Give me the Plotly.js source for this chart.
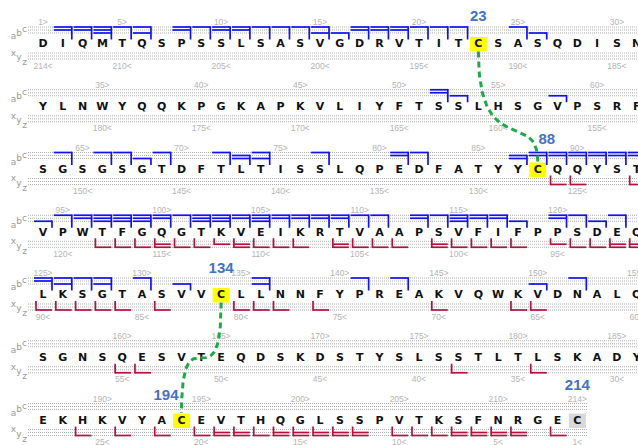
<!DOCTYPE html>
<html><head><meta charset="utf-8">
<script src="https://cdn.plot.ly/plotly-3.0.1.min.js"></script>
<style>html,body{margin:0;padding:0;background:#fff}#chart{width:638px;height:445px}</style>
</head><body><div id="chart"></div>
<script>
// ---------------- data ----------------
const sequence = "DIQMTQSPSSLSASVGDRVTITCSASQDISNYLNWYQQKPGKAPKVLIYFTSSLHSGVPSRFSGSGSGTDFTLTISSLQPEDFATYYCQQYSTVPWTFGQGTKVEIKRTVAAPSVFIFPPSDEQLKSGTASVVCLLNNFYPREAKVQWKVDNALQSGNSQESVTEQDSKDSTYSLSSTLTLSKADYEKHKVYACEVTHQGLSSPVTKSFNRGEC";
const residuesPerRow = 31;

// N-terminal fragments (a, b, c) : residue number and observed ion types
const nTermResidues = [2,3,4,5,6,8,9,10,11,12,13,14,15,16,17,18,19,20,21,22,25,26,
  52,53,58,
  64,66,67,68,69,72,73,74,77,81,82,87,88,89,90,91,92,93,
  94,95,96,97,98,99,100,101,102,103,104,105,106,107,108,109,110,111,113,114,115,116,117,118,120,121,122,123,
  125,126,127,128,130,132,136,141,143,150,152];
const nTermIons = ['cb','cb','cba','c','ca','cb','c','cb','cb','c','c','c','ca','a','cb','cb','cb','c','c','c','c','a',
  'cb','a','a',
  'c','c','c','a','c','c','ba','ca','c','cb','c','ba','cb','cb','cb','cb','cb','cb',
  'a','c','cb','cba','cba','cba','cb','c','cba','cba','cb','cba','cb','cb','cb','cb','c','c','cb','c','cba','cb','cb','a','cb','c','a','c',
  'cb','ca','c','ca','c','a','ca','c','c','a','c'];

// C-terminal fragments (x, y, z)
const cTermResidues = [89,90,93,
  97,98,99,100,101,102,103,104,105,106,107,109,110,111,112,114,115,116,117,118,120,121,122,123,124,
  125,126,127,128,129,131,135,136,137,139,145,149,150,
  160,161,177,181,
  189,191,193,195,196,197,198,199,200,201,202,203,205,206,207,208,209,210,211,213];
const cTermIons = ['z','z','z',
  'z','z','z','yz','z','z','y','yz','z','z','z','yz','z','z','z','yz','z','z','z','z','y','z','z','yz','yz',
  'z','z','z','z','z','z','z','z','z','z','z','z','z',
  'z','z','z','z',
  'z','z','z','z','yz','yz','z','yz','yz','yz','yz','yz','z','z','z','yz','yz','yz','yz','z'];

const disulfideBonds = [[23,88],[134,194]];
const bondedCys = [23,88,134,194];
const freeCys = [214];
const cysLabels = [23,88,134,194,214];

// ---------------- geometry / style ----------------
const W=638, H=445, X0=43, PITCH=19.79, Y0=44.5, ROWH=62.75;
const px = v => v/PITCH, py = v => v/ROWH;
const colOf = r => (r-1)%residuesPerRow, rowOf = r => Math.floor((r-1)/residuesPerRow);
const nLevel = {c:-17.5, b:-14.5, a:-11.5};
const cLevel = {x:8.5, y:11.5, z:14.5};
const BLUE='#1010f0', RED='#b3123d', GREEN='#1fa84a', GRAY='#b8b8b8';
const bondBend = [0.5, 0];
const labelOffset = {23:[0,-27], 88:[9,-30], 134:[0,-26.5], 194:[-15.5,-25], 214:[0,-35]};

const N = sequence.length;
const nRows = Math.ceil(N/residuesPerRow);
const traces = [];
const shapes = [];

// dotted guide lines
for (let r=0; r<nRows; r++){
  const lastCol = Math.min(residuesPerRow, N - r*residuesPerRow) - 1;
  const xEnd = (r === nRows-1) ? lastCol + px(10) : (W - X0)/PITCH + 1;
  const levels = Object.values(nLevel).concat(Object.values(cLevel));
  levels.forEach(L => shapes.push({type:'line', layer:'below', xref:'x', yref:'y',
    x0: px(28-X0), x1: xEnd, y0: r+py(L), y1: r+py(L),
    line:{color:'#b0b0b0', width:1, dash:'1px,1px'}}));
}

// Cys highlight boxes
bondedCys.concat(freeCys).forEach(res => {
  const c = colOf(res), r = rowOf(res);
  shapes.push({type:'rect', layer:'below', xref:'x', yref:'y',
    x0: c-px(8.5), x1: c+px(8.5), y0: r+py(-7.5), y1: r+py(7),
    fillcolor: freeCys.includes(res) ? '#d8d8d8' : '#ffff00', line:{width:0}});
});

// N-terminal brackets
{
  const xs=[], ys=[];
  nTermResidues.forEach((res,i) => {
    const c = colOf(res), r = rowOf(res), types = nTermIons[i].split('');
    let top = 0;
    types.forEach(t => {
      const L = nLevel[t]; top = Math.min(top, L);
      xs.push(c+px(-9), c+px(9), null); ys.push(r+py(L), r+py(L), null);
    });
    xs.push(c+px(9), c+px(9), null); ys.push(r+py(top-0.8), r+py(-5), null);
  });
  traces.push({x:xs, y:ys, mode:'lines', line:{color:BLUE, width:1.7}, hoverinfo:'skip'});
}
// C-terminal brackets
{
  const xs=[], ys=[];
  cTermResidues.forEach((res,i) => {
    const c = colOf(res), r = rowOf(res), types = cTermIons[i].split('');
    let bot = 0;
    types.forEach(t => {
      const L = cLevel[t]; bot = Math.max(bot, L);
      xs.push(c+px(-7), c+px(9), null); ys.push(r+py(L), r+py(L), null);
    });
    xs.push(c+px(-7), c+px(-7), null); ys.push(r+py(5.5), r+py(bot+0.8), null);
  });
  traces.push({x:xs, y:ys, mode:'lines', line:{color:RED, width:1.7}, hoverinfo:'skip'});
}

// residues
{
  const xs=[], ys=[], tx=[];
  sequence.split('').forEach((aa,i) => { xs.push(colOf(i+1)); ys.push(rowOf(i+1)); tx.push(aa); });
  traces.push({x:xs, y:ys, text:tx, mode:'text', textposition:'middle center',
    textfont:{family:'DejaVu Sans', size:11, weight:'bold', color:'#111'}, hoverinfo:'skip'});
}

// numbering
{
  const xs=[], ys=[], tx=[], xl=[], yl=[], tl=[];
  for (let res=1; res<=N; res++){
    if (res===1 || res%5===0 || res===N){
      const c = colOf(res), r = rowOf(res);
      xs.push(c); ys.push(r+py(-21.5)); tx.push(res+'>');
      xl.push(c); yl.push(r+py(22)); tl.push((N+1-res)+'<');
    }
  }
  const f = {family:'Liberation Sans', size:8.5, color:'#b4b4b4'};
  traces.push({x:xs, y:ys, text:tx, mode:'text', textfont:f, hoverinfo:'skip'});
  traces.push({x:xl, y:yl, text:tl, mode:'text', textfont:f, hoverinfo:'skip'});
}

// ion type labels
{
  const xs=[], ys=[], tx=[];
  const spec = [['a',13.5,-7.5],['b',19,-11],['c',24.5,-14.5],['x',13.5,9],['y',19,13.5],['z',24.5,18.5]];
  for (let r=0; r<nRows; r++) spec.forEach(s => { xs.push(px(s[1]-X0)); ys.push(r+py(s[2])); tx.push(s[0]); });
  traces.push({x:xs, y:ys, text:tx, mode:'text', textfont:{family:'DejaVu Sans', size:9, color:'#999'}, hoverinfo:'skip'});
}

// disulfide bonds
disulfideBonds.forEach((b,k) => {
  const P0 = [colOf(b[0]), rowOf(b[0])+py(7)];
  const P3 = [colOf(b[1]), rowOf(b[1])+py(-8)];
  const C1 = [P0[0], P3[1]];
  const C2 = [P3[0], P0[1] + bondBend[k]*(P3[1]-P0[1])];
  const xs=[], ys=[];
  for (let i=0;i<=60;i++){
    const t=i/60, u=1-t;
    const w0=u*u*u, w1=3*u*u*t, w2=3*u*t*t, w3=t*t*t;
    xs.push(w0*P0[0]+w1*C1[0]+w2*C2[0]+w3*P3[0]);
    ys.push(w0*P0[1]+w1*C1[1]+w2*C2[1]+w3*P3[1]);
  }
  traces.push({x:xs, y:ys, mode:'lines', line:{color:GREEN, width:3, dash:'6px,4px'}, hoverinfo:'skip'});
});

// cys labels
{
  const xs=[], ys=[], tx=[];
  cysLabels.forEach(res => {
    const o = labelOffset[res];
    xs.push(colOf(res)+px(o[0])); ys.push(rowOf(res)+py(o[1])); tx.push(String(res));
  });
  traces.push({x:xs, y:ys, text:tx, mode:'text', textfont:{family:'Liberation Sans', size:15, weight:'bold', color:'#4472c4'}, hoverinfo:'skip'});
}

const layout = {
  width:W, height:H, margin:{l:0,r:0,t:0,b:0}, showlegend:false,
  paper_bgcolor:'#fff', plot_bgcolor:'#fff',
  xaxis:{range:[-X0/PITCH, (W-X0)/PITCH], visible:false, fixedrange:true},
  yaxis:{range:[(H-Y0)/ROWH, -Y0/ROWH], visible:false, fixedrange:true},
  shapes:shapes
};
Plotly.newPlot('chart', traces, layout, {staticPlot:true, displayModeBar:false});
</script></body></html>
